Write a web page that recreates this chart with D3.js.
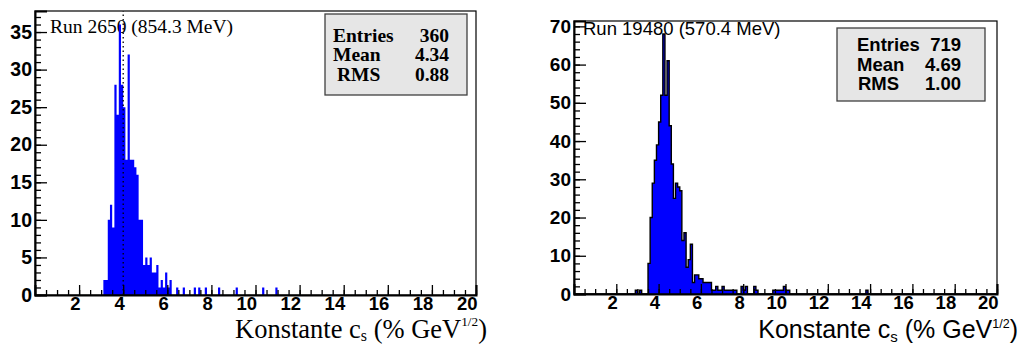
<!DOCTYPE html>
<html><head><meta charset="utf-8">
<script src="https://cdn.jsdelivr.net/npm/d3@7"></script>
<style>body{margin:0;background:#fff}svg{display:block}</style>
</head><body>
<svg id="c" width="1022" height="345"></svg>
<script>
// ---------------- data ----------------
const binWidth = 0.1;
const xRange = [0, 20];
const xMajorTicks = [2, 4, 6, 8, 10, 12, 14, 16, 18, 20];
const xMinorStep = 0.5;

const leftTitle = "Run 2650 (854.3 MeV)";
const leftBinLow = [3.1,3.2,3.3,3.4,3.5,3.6,3.7,3.8,3.9,4.0,4.1,4.2,4.3,4.4,4.5,4.6,4.7,4.8,4.9,5.0,5.1,5.2,5.3,5.4,5.5,5.6,5.7,5.8,5.9,6.0,6.1,6.4,6.7,7.2,7.4,7.7,8.3,9.1,10.3,10.9];
const leftCounts = [2,2,10,12,9,28,24,36,28,25,18,32,18,18,17,16,10,10,4,5,4,5,3,3,4,1,2,1,3,1,2,1,1,1,1,1,1,1,1,1];
const leftYMax = 37.8;
const leftYMajor = [0, 5, 10, 15, 20, 25, 30, 35];
const leftYMinorStep = 1;
const leftMarker = 4;
const leftStatNames = ["Entries", "Mean", "RMS"];
const leftStatValues = ["360", "4.34", "0.88"];

const rightTitle = "Run 19480 (570.4 MeV)";
const rightBinLow = [2.9,3.1,3.5,3.6,3.7,3.8,3.9,4.0,4.1,4.2,4.3,4.4,4.5,4.6,4.7,4.8,4.9,5.0,5.1,5.2,5.3,5.4,5.5,5.6,5.7,5.8,5.9,6.0,6.1,6.2,6.3,6.4,6.5,6.6,6.7,6.8,6.9,7.0,7.1,7.2,7.3,7.4,7.5,7.6,7.9,8.0,8.1,8.5,8.6,9.4,9.5,9.6,9.7,9.8,9.9,10.0,10.1,13.8];
const rightCounts = [1,1,8,20,29,35,39,45,52,68,52,61,44,34,25,29,28,27,14,16,7,9,13,3,5,5,4,4,3,3,3,3,1,1,2,1,1,2,1,1,1,1,1,1,2,1,2,2,1,1,1,1,1,1,2,1,1,1];
const rightYMax = 71.4;
const rightYMajor = [0, 10, 20, 30, 40, 50, 60, 70];
const rightYMinorStep = 2;
const rightStatNames = ["Entries", "Mean", "RMS"];
const rightStatValues = ["719", "4.69", "1.00"];

// ---------------- drawing ----------------
const svg = d3.select("#c");
const SANS = "'Liberation Sans', Arial, Helvetica, sans-serif";
const SERIF = "'Liberation Serif', 'Times New Roman', serif";

function fullBins(lows, counts) {
  const n = Math.round((xRange[1] - xRange[0]) / binWidth);
  const arr = new Array(n).fill(0);
  lows.forEach((lo, i) => { arr[Math.round((lo - xRange[0]) / binWidth)] = counts[i]; });
  const pts = [];
  arr.forEach((c, i) => {
    const lo = xRange[0] + i * binWidth;
    pts.push({x: lo, y: c}, {x: lo + binWidth, y: c});
  });
  return pts;
}

function panel(cfg) {
  const g = svg.append("g");
  const x = d3.scaleLinear().domain(xRange).range([cfg.left, cfg.right]);
  const y = d3.scaleLinear().domain([0, cfg.yMax]).range([cfg.bottom, cfg.top]);

  g.append("text").attr("x", cfg.titleX).attr("y", cfg.titleY)
    .attr("font-family", cfg.titleFont).attr("font-size", cfg.titleSize)
    .text(cfg.title);

  const pts = fullBins(cfg.lows, cfg.counts);
  const area = d3.area().x(d => x(d.x)).y0(y(0)).y1(d => y(d.y));
  g.append("path").datum(pts).attr("d", area).attr("fill", "#0000ff")
    .attr("stroke", "none");
  if (cfg.outline) {
    const line = d3.line().x(d => x(d.x)).y(d => y(d.y));
    g.append("path").datum(pts).attr("d", line).attr("fill", "none")
      .attr("stroke", "#000").attr("stroke-width", 1.4);
  }
  if (cfg.marker !== undefined) {
    g.append("line").attr("x1", x(cfg.marker)).attr("x2", x(cfg.marker))
      .attr("y1", y(0)).attr("y2", cfg.top)
      .attr("stroke", "#000").attr("stroke-width", 1.3).attr("stroke-dasharray", "1.5,3");
  }

  g.append("rect").attr("x", cfg.left).attr("y", cfg.top)
    .attr("width", cfg.right - cfg.left).attr("height", cfg.bottom - cfg.top)
    .attr("fill", "none").attr("stroke", "#000").attr("stroke-width", 1.2);

  const minor = d3.range(xRange[0], xRange[1] + 1e-9, xMinorStep).filter(v => v > 0);
  g.append("g").attr("transform", `translate(0,${cfg.bottom})`)
    .call(d3.axisBottom(x).tickValues(minor).tickSize(-5).tickFormat(""))
    .call(a => a.select(".domain").remove());
  const xa = g.append("g").attr("transform", `translate(0,${cfg.bottom})`)
    .call(d3.axisBottom(x).tickValues(xMajorTicks).tickSize(-10).tickPadding(1.5).tickFormat(d3.format("d")));
  xa.select(".domain").attr("stroke-width", 2);
  xa.selectAll("text").attr("text-anchor", "end").attr("x", 1)
    .attr("font-family", SANS).attr("font-weight", "bold").attr("font-size", cfg.xTickSize).attr("fill", "#000");

  const yMinor = d3.range(0, cfg.yMax, cfg.yMinorStep);
  g.append("g").attr("transform", `translate(${cfg.left},0)`)
    .call(d3.axisLeft(y).tickValues(yMinor).tickSize(-6).tickFormat(""))
    .call(a => a.select(".domain").remove());
  const ya = g.append("g").attr("transform", `translate(${cfg.left},0)`)
    .call(d3.axisLeft(y).tickValues(cfg.yMajor).tickSize(-12).tickPadding(3).tickFormat(d3.format("d")));
  ya.select(".domain").attr("stroke-width", 2);
  ya.selectAll("text").attr("font-family", SANS).attr("font-weight", "bold")
    .attr("font-size", cfg.tickSize).attr("fill", "#000");
  g.selectAll(".tick line").attr("stroke", "#000").attr("stroke-width", 1.3);

  const sb = cfg.stats;
  g.append("rect").attr("x", sb.x).attr("y", sb.y).attr("width", sb.w).attr("height", sb.h)
    .attr("fill", "#e6e6e6").attr("stroke", "#404040").attr("stroke-width", 1.3);
  cfg.statNames.forEach((nm, i) => {
    g.append("text").attr("x", sb.nameX[i]).attr("y", sb.rowY[i])
      .attr("font-family", sb.font).attr("font-weight", "bold").attr("font-size", sb.size)
      .text(nm);
    g.append("text").attr("x", sb.valX).attr("y", sb.rowY[i]).attr("text-anchor", "end")
      .attr("font-family", sb.font).attr("font-weight", "bold").attr("font-size", sb.size)
      .text(cfg.statValues[i]);
  });

  const t = g.append("text").attr("x", cfg.xtX).attr("y", cfg.xtY).attr("text-anchor", "end")
    .attr("font-family", cfg.xtFont).attr("font-size", cfg.xtSize);
  t.append("tspan").text("Konstante c");
  t.append("tspan").attr("font-size", cfg.xtSize * 0.6).attr("dy", cfg.xtSize * 0.15).text("s");
  t.append("tspan").attr("dy", -cfg.xtSize * 0.15).text(" (% GeV");
  t.append("tspan").attr("font-size", cfg.xtSize * 0.5).attr("dy", -cfg.xtSize * 0.42).text("1/2");
  t.append("tspan").attr("dy", cfg.xtSize * 0.42).text(")");
}

panel({
  left: 35, right: 476, top: 11, bottom: 295, yMax: leftYMax,
  lows: leftBinLow, counts: leftCounts, outline: false, marker: leftMarker,
  yMajor: leftYMajor, yMinorStep: leftYMinorStep, tickSize: 19.5, xTickSize: 18.5,
  title: leftTitle, titleX: 50, titleY: 33, titleFont: SERIF, titleSize: 19.5,
  statNames: leftStatNames, statValues: leftStatValues,
  stats: {x: 325, y: 14, w: 142, h: 81, font: SERIF, size: 19.5,
          nameX: [333, 333, 337], valX: 449, rowY: [42, 61, 81]},
  xtX: 487, xtY: 337.5, xtFont: SERIF, xtSize: 26.5
});

panel({
  left: 574, right: 997, top: 21, bottom: 294, yMax: rightYMax,
  lows: rightBinLow, counts: rightCounts, outline: true,
  yMajor: rightYMajor, yMinorStep: rightYMinorStep, tickSize: 19, xTickSize: 18.5,
  title: rightTitle, titleX: 583, titleY: 35, titleFont: SANS, titleSize: 18.5,
  statNames: rightStatNames, statValues: rightStatValues,
  stats: {x: 837, y: 28, w: 148, h: 73, font: SANS, size: 18.5,
          nameX: [857, 857, 858], valX: 961, rowY: [51, 71, 90]},
  xtX: 1018, xtY: 338, xtFont: SANS, xtSize: 25
});
</script>
</body></html>
